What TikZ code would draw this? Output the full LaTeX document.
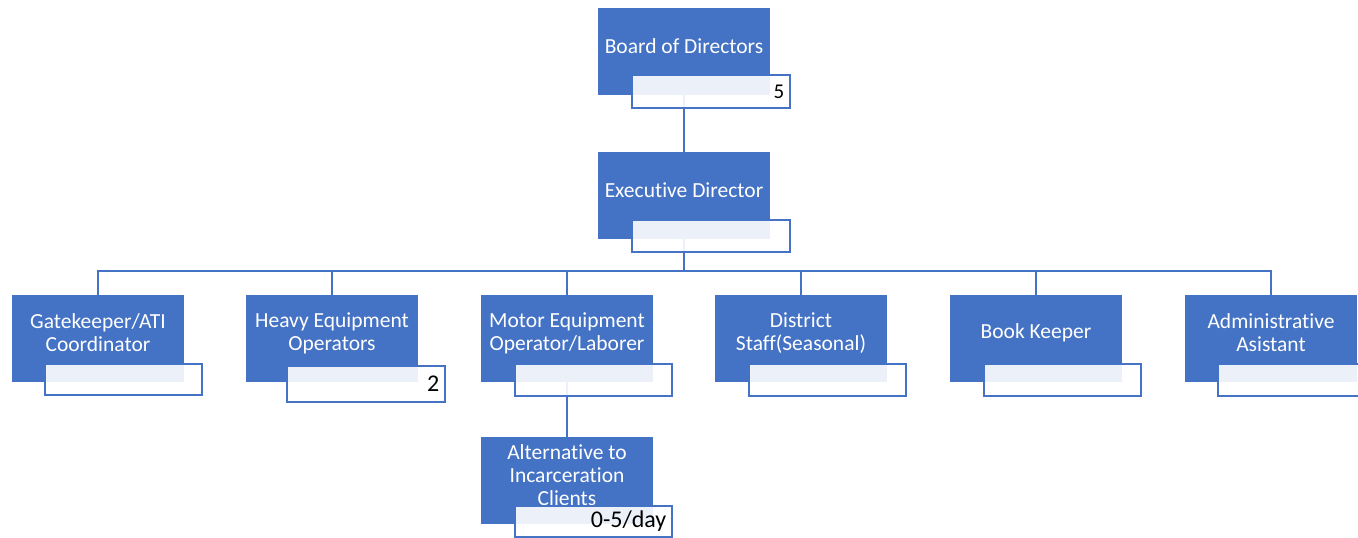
\documentclass[tikz,border=0pt]{standalone}
\usepackage{fontspec}
\setmainfont[Ligatures={NoCommon}]{Carlito}
\usetikzlibrary{backgrounds}
\definecolor{ob}{HTML}{4472C4}
\tikzset{
  mainbox/.style={draw=none, fill=ob, inner sep=0pt, outer sep=0pt, minimum width=172pt, minimum height=87pt, anchor=north west},
  subbox/.style={draw=ob, line width=2.2pt, fill=white, fill opacity=0.9, inner sep=0pt, outer sep=0pt, anchor=north west},
  maintext/.style={text=white, align=center, font=\fontsize{21.5}{23}\selectfont, inner sep=0pt},
  numtext/.style={text=black, font=\fontsize{24}{26}\selectfont, inner sep=0pt, anchor=east},
  conn/.style={draw=ob, line width=2.7pt}
}
% #1 name, #2 left, #3 top, #4 text, #5 subleft, #6 subtop, #7 subwidth, #8 subheight, #9 number
\newcommand\orgunit[9]{%
  \node[mainbox] (#1) at (#2,#3) {};
  \node[maintext] (#1t) at ([yshift=5.5pt]#1.center) {#4};
  \node[subbox, minimum width=#7pt, minimum height=#8pt] (#1s) at (#5,#6) {};
  \node[numtext] (#1n) at ([xshift=-5.5pt,yshift=0pt]#1s.east) {#9};
}
\begin{document}
\begin{tikzpicture}[x=1pt,y=-1pt]
\useasboundingbox (0,0) rectangle (1358,538);
\orgunit{board}{598}{8}{Board of Directors}{632}{75}{158}{33}{\fontsize{21}{23}\selectfont 5}
\orgunit{exec}{598}{152}{Executive Director}{632}{220}{158}{32}{}
\orgunit{gk}{12}{295}{Gatekeeper/ATI\\Coordinator}{45}{364}{157}{31}{}
\orgunit{heavy}{246}{295}{Heavy Equipment\\Operators}{287}{366}{158}{36}{2}
\orgunit{motor}{481}{295}{Motor Equipment\\Operator/Laborer}{515}{364}{157}{32}{}
\orgunit{district}{715}{295}{District\\Staff(Seasonal)}{749}{364}{157}{32}{}
\orgunit{book}{950}{295}{Book Keeper}{984}{364}{157}{32}{}
\orgunit{admin}{1185}{295}{Administrative\\Asistant}{1218}{364}{160}{32}{}
\orgunit{alt}{481}{437}{Alternative to\\Incarceration\\Clients}{515}{506}{157}{31}{0-5/day}
\coordinate (bus) at (684,271);
\begin{scope}[on background layer]
  \draw[conn] (board.center) -- (exec.center);
  \draw[conn] (exec.center) -- (bus);
  \foreach \c in {gk,heavy,motor,district,book,admin}{
    \draw[conn] (\c.center) |- (bus);
  }
  \draw[conn] (motor.center) -- (alt.center);
\end{scope}
\end{tikzpicture}
\end{document}
